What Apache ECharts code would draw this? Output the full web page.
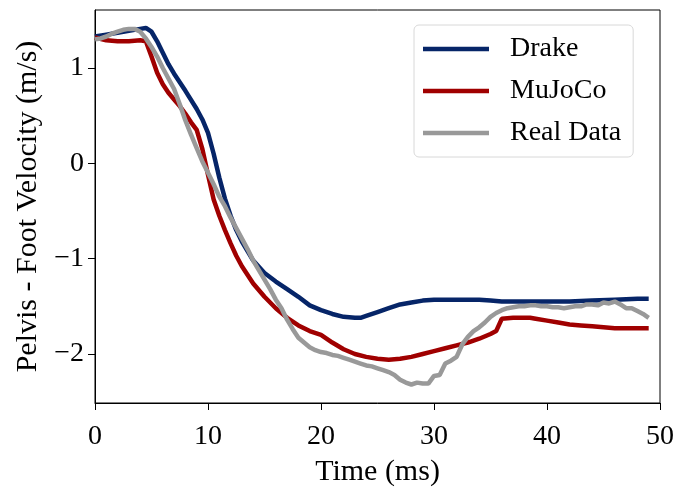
<!DOCTYPE html>
<html>
<head>
<meta charset="utf-8">
<script src="https://cdn.jsdelivr.net/npm/echarts@6/dist/echarts.min.js"></script>
<style>html,body{margin:0;padding:0;background:#fff}#c{width:697px;height:489px}</style>
</head>
<body>
<div id="c"></div>
<script>
const xTicks = [0, 10, 20, 30, 40, 50];
const yTicks = [-2, -1, 0, 1];
const seriesNames = ['Drake', 'MuJoCo', 'Real Data'];

const drakeT = [0,1,2,3,4,4.5,5,5.5,6,6.5,7,8,9,9.5,10,10.5,11,11.5,12,12.5,13,13.5,14,15,16,17,18,19,20,21,22,23,23.5,24,25,26,27,28,29,30,32,34,35,36,38,40,42,44,46,48,49];
const drakeV = [1.33,1.35,1.37,1.39,1.41,1.42,1.38,1.28,1.16,1.04,0.94,0.76,0.57,0.46,0.32,0.10,-0.15,-0.37,-0.55,-0.70,-0.82,-0.92,-1.02,-1.15,-1.24,-1.32,-1.40,-1.49,-1.54,-1.58,-1.61,-1.62,-1.62,-1.60,-1.56,-1.52,-1.48,-1.46,-1.44,-1.43,-1.43,-1.43,-1.44,-1.45,-1.45,-1.45,-1.45,-1.44,-1.43,-1.42,-1.42];

const mujocoT = [0,1,2,3,4,4.5,5,5.5,6,6.5,7,7.5,8,8.5,9,9.5,10,10.5,11,11.5,12,12.5,13,14,15,16,17,18,19,20,21,22,23,24,25,26,27,28,29,30,31,32,33,34,35,35.5,36,37,38,38.5,39,40,41,42,43,44,45,46,47,48,49];
const mujocoV = [1.32,1.29,1.28,1.28,1.29,1.28,1.12,0.95,0.83,0.74,0.67,0.60,0.52,0.43,0.35,0.15,-0.12,-0.38,-0.55,-0.70,-0.84,-0.97,-1.08,-1.26,-1.40,-1.52,-1.62,-1.70,-1.76,-1.80,-1.88,-1.95,-2.00,-2.03,-2.05,-2.06,-2.05,-2.03,-2.00,-1.97,-1.94,-1.91,-1.88,-1.84,-1.79,-1.76,-1.63,-1.62,-1.62,-1.62,-1.63,-1.65,-1.67,-1.69,-1.70,-1.71,-1.72,-1.73,-1.73,-1.73,-1.73];

const realT = [0,0.5,1,1.5,2,2.5,3,3.5,4,4.5,5,5.5,6,6.5,7,7.5,8,8.5,9,9.5,10,10.5,11,11.5,12,12.5,13,13.5,14,14.5,15,15.5,16,16.5,17,17.5,18,18.5,19,19.5,20,20.5,21,21.5,22,22.5,23,23.5,24,24.5,25,25.5,26,26.5,27,27.5,28,28.5,29,29.5,30,30.5,31,31.5,32,32.5,33,33.5,34,34.5,35,35.5,36,36.5,37,37.5,38,38.5,39,39.5,40,40.5,41,41.5,42,42.5,43,43.5,44,44.5,45,45.5,46,46.5,47,47.5,48,48.5,49];
const realV = [1.30,1.31,1.33,1.36,1.38,1.40,1.41,1.41,1.38,1.31,1.22,1.12,1.00,0.89,0.78,0.62,0.45,0.30,0.16,0.02,-0.10,-0.22,-0.35,-0.45,-0.57,-0.68,-0.79,-0.90,-1.02,-1.12,-1.22,-1.32,-1.43,-1.52,-1.64,-1.74,-1.83,-1.88,-1.93,-1.96,-1.98,-1.99,-2.01,-2.02,-2.04,-2.06,-2.08,-2.10,-2.12,-2.13,-2.15,-2.17,-2.19,-2.22,-2.27,-2.30,-2.32,-2.30,-2.31,-2.31,-2.23,-2.22,-2.10,-2.07,-2.03,-1.90,-1.82,-1.76,-1.72,-1.67,-1.61,-1.57,-1.54,-1.52,-1.51,-1.50,-1.50,-1.49,-1.49,-1.50,-1.50,-1.51,-1.51,-1.52,-1.51,-1.50,-1.50,-1.48,-1.48,-1.49,-1.46,-1.47,-1.45,-1.48,-1.52,-1.52,-1.55,-1.58,-1.62];

const colors = ['#062568', '#a00000', '#999999'];
const FONT = 'Liberation Serif';
const fmt = v => (v < 0 ? '\u2212' + Math.abs(v) : String(v));
const zip = (t, v) => t.map((x, i) => [x, v[i]]);

const chart = echarts.init(document.getElementById('c'), null, {renderer: 'canvas'});
chart.setOption({
  animation: false,
  grid: {left: 95, right: 37, top: 10, bottom: 86, outerBoundsMode: 'none', containLabel: false, show: true, borderColor: '#000', borderWidth: 1, backgroundColor: 'transparent'},
  legend: {
    orient: 'vertical', left: 414, top: 25,
    padding: [10, 12, 10, 9],
    icon: 'rect',
    itemWidth: 66, itemHeight: 4.5, itemGap: 14,
    borderColor: '#d8d8d8', borderWidth: 1, borderRadius: 5,
    textStyle: {fontFamily: FONT, fontSize: 28, color: '#000', padding: [0, 0, 0, 16], lineHeight: 28},
    data: seriesNames
  },
  xAxis: {
    type: 'value', min: 0, max: 50, interval: 10,
    name: 'Time (ms)', nameLocation: 'middle', nameGap: 54,
    nameTextStyle: {fontFamily: FONT, fontSize: 30, color: '#000'},
    axisLine: {show: true, onZero: false, lineStyle: {color: '#000', width: 1}},
    axisTick: {show: true, inside: false, length: 7, lineStyle: {color: '#000'}, customValues: xTicks},
    axisLabel: {fontFamily: FONT, fontSize: 28, color: '#000', margin: 20, customValues: xTicks, formatter: fmt},
    splitLine: {show: false}
  },
  yAxis: {
    type: 'value', min: -2.514, max: 1.608,
    name: 'Pelvis - Foot Velocity (m/s)', nameLocation: 'middle', nameGap: 52, nameRotate: 90,
    nameTextStyle: {fontFamily: FONT, fontSize: 30, color: '#000'},
    axisLine: {show: true, onZero: false, lineStyle: {color: '#000', width: 1}},
    axisTick: {show: true, inside: false, length: 7, lineStyle: {color: '#000'}, customValues: yTicks},
    axisLabel: {fontFamily: FONT, fontSize: 28, color: '#000', margin: 11, customValues: yTicks, formatter: fmt},
    splitLine: {show: false}
  },
  series: [
    {name: seriesNames[0], type: 'line', data: zip(drakeT, drakeV), showSymbol: false, symbol: 'none', lineStyle: {color: colors[0], width: 4.5}, itemStyle: {color: colors[0]}, z: 2},
    {name: seriesNames[1], type: 'line', data: zip(mujocoT, mujocoV), showSymbol: false, symbol: 'none', lineStyle: {color: colors[1], width: 4.5}, itemStyle: {color: colors[1]}, z: 3},
    {name: seriesNames[2], type: 'line', data: zip(realT, realV), showSymbol: false, symbol: 'none', lineStyle: {color: colors[2], width: 4.5}, itemStyle: {color: colors[2]}, z: 4}
  ]
});
</script>
</body>
</html>
